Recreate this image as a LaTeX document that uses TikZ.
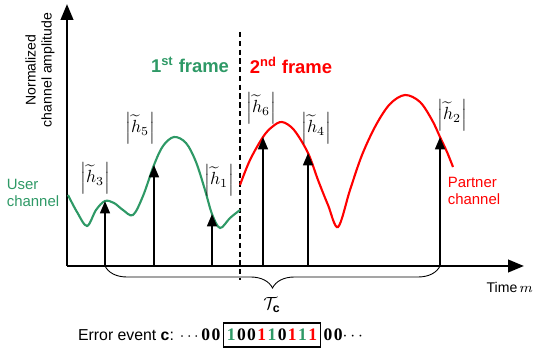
\documentclass[tikz,border=0pt]{standalone}
\usepackage{amsmath,amssymb}
\usepackage{fontspec}
\setmainfont{Liberation Sans}
\newfontfamily\digitfont{Liberation Serif}
\usetikzlibrary{arrows.meta,decorations.pathreplacing,positioning}
\definecolor{usergreen}{HTML}{2E9966}
\definecolor{partnerred}{HTML}{FF0000}
\tikzset{
  axis/.style={line width=1.5pt,-{Triangle[length=9pt,width=7pt]}},
  stem/.style={line width=1.3pt,-{Triangle[length=7pt,width=5.5pt]}},
  chan/.style={line width=1.2pt,smooth,tension=0.55},
  gain/.style={inner sep=0pt},
  tag/.style={font=\fontsize{10.5}{12}\selectfont\bfseries},
  chanlab/.style={font=\fontsize{8.5}{10}\selectfont,align=left},
  bits/.style={font=\digitfont\bfseries\fontsize{10}{11}\selectfont},
}

\begin{document}
\begin{tikzpicture}[x=0.02cm,y=-0.02cm,>=Latex]
  \useasboundingbox (0,0) rectangle (536,350);
  % axes
  \coordinate (o) at (67,266);
  \coordinate (ytop) at (67,4);
  \coordinate (xend) at (524,266);
  \draw[axis] (o) -- (ytop);
  \draw[axis] (o) -- (xend);
  \node[rotate=90,align=center,font=\fontsize{8}{9}\selectfont] (ylab) at (40,70) {Normalized\\channel amplitude};
  \node[anchor=east,inner sep=1pt,font=\fontsize{8}{10}\selectfont] (xlab) at (535,287) {Time\,$m$};
  % frame border
  \coordinate (dtop) at (240,32);
  \coordinate (dbot) at (240,280);
  \draw[line width=1.2pt,dash pattern=on 3pt off 2pt] (dtop) -- (dbot);
  % channels
  \draw[chan,usergreen] plot coordinates {(68,195) (77,212) (87,226) (96,210) (105,201) (114,203) (123,210) (133,215) (143,196) (154,165) (163,146) (174,137) (186,143) (196,162) (205,190) (212,214) (220,228) (230,218) (240,210)};
  \draw[chan,partnerred] plot coordinates {(240,185) (250,160) (263,137) (272,127) (282,122) (294,130) (308,153) (318,180) (328,205) (338,227) (350,190) (362,155) (376,125) (390,104) (405,95) (420,102) (432,120) (440,137) (447,152) (453,167)};
  % samples
  \foreach \k/\xx/\yy in {3/105/201,5/154/165,1/212/214,6/263/137,4/308/153,2/440/137}{
    \coordinate (b\k) at (\xx,266);
    \coordinate (t\k) at (\xx,\yy);
    \draw[stem] (b\k) -- (t\k);
  }
  \node[gain] (g3) at (95,178) {$\Bigl|\widetilde{h}_3\Bigr|$};
  \node[gain] (g5) at (140,128) {$\Bigl|\widetilde{h}_5\Bigr|$};
  \node[gain] (g1) at (219,180) {$\Bigl|\widetilde{h}_1\Bigr|$};
  \node[gain] (g6) at (261,108) {$\Bigl|\widetilde{h}_6\Bigr|$};
  \node[gain] (g4) at (316,128) {$\Bigl|\widetilde{h}_4\Bigr|$};
  \node[gain] (g2) at (452,115) {$\Bigl|\widetilde{h}_2\Bigr|$};
  % labels
  \node[tag,usergreen] (f1) at (190,65) {1\textsuperscript{st} frame};
  \node[tag,partnerred] (f2) at (291,65) {2\textsuperscript{nd} frame};
  \node[chanlab,usergreen] (uc) at (33,193) {User\\channel};
  \node[chanlab,partnerred] (pc) at (474,191) {Partner\\channel};
  % coherence time
  \draw[line width=0.5pt,decorate,decoration={brace,mirror,amplitude=0.44cm}] (b3) -- (b2);
  \node (tc) at (272,305) {$\mathcal{T}_{\mathbf{c}}$};
  % error event
  \node[bits,draw,line width=0.9pt,inner sep=2pt,minimum height=0.48cm] (seq) at (272,335) {{\color{usergreen}1}\hspace{0.8pt}0\hspace{0.8pt}0\hspace{0.8pt}{\color{partnerred}1}\hspace{0.8pt}{\color{usergreen}1}\hspace{0.8pt}0\hspace{0.8pt}{\color{partnerred}1}\hspace{0.8pt}{\color{usergreen}1}\hspace{0.8pt}{\color{partnerred}1}};
  \node[left=0pt of seq,font=\fontsize{9}{11}\selectfont,inner sep=1pt] (ev) {Error event \textbf{c}: $\cdots${\digitfont\bfseries\fontsize{10}{11}\selectfont 0\hspace{0.8pt}0}};
  \node[right=0pt of seq,inner sep=1pt] (rest) {{\digitfont\bfseries\fontsize{10}{11}\selectfont 0\hspace{0.8pt}0}$\cdots$};
\end{tikzpicture}
\end{document}
